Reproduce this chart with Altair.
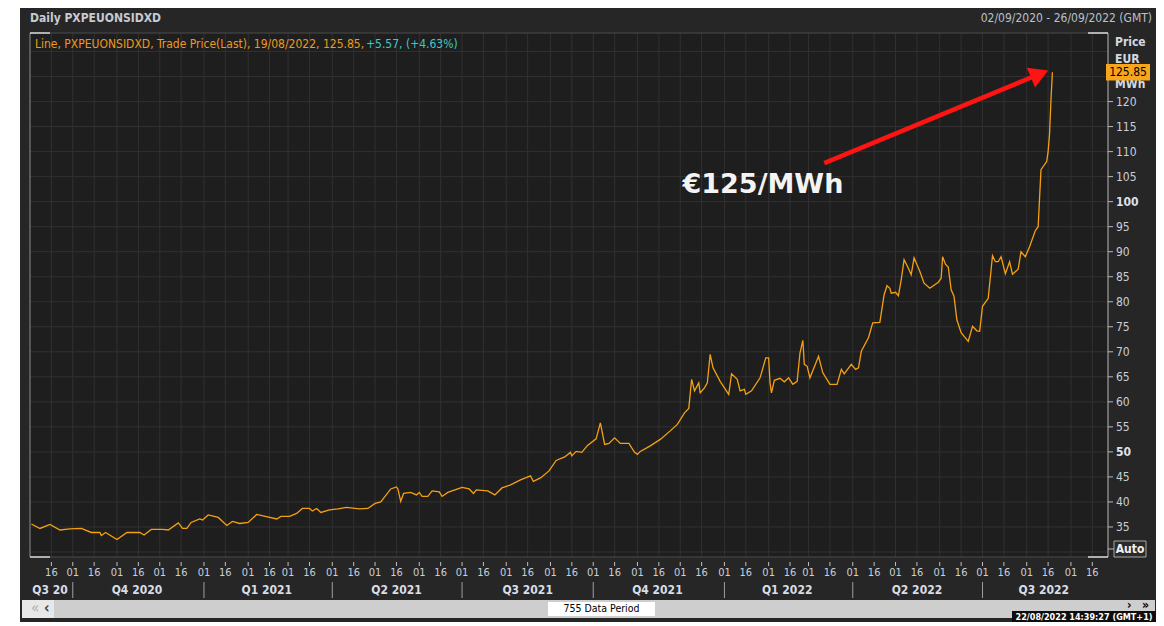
import altair as alt
import pandas as pd

# ---------------- data ----------------
dates = [
    "2020-09-02", "2020-09-08", "2020-09-15", "2020-09-22", "2020-09-29", "2020-10-07", "2020-10-14",
    "2020-10-20", "2020-10-21", "2020-10-24", "2020-11-01", "2020-11-08", "2020-11-17", "2020-11-20",
    "2020-11-25", "2020-12-03", "2020-12-07", "2020-12-14", "2020-12-17", "2020-12-20", "2020-12-23",
    "2020-12-29", "2020-12-31", "2021-01-04", "2021-01-11", "2021-01-17", "2021-01-21", "2021-01-26",
    "2021-02-01", "2021-02-07", "2021-02-13", "2021-02-21", "2021-02-24", "2021-03-02", "2021-03-07",
    "2021-03-11", "2021-03-16", "2021-03-18", "2021-03-21", "2021-03-24", "2021-03-30", "2021-04-05",
    "2021-04-11", "2021-04-20", "2021-04-26", "2021-05-01", "2021-05-05", "2021-05-12", "2021-05-16",
    "2021-05-17", "2021-05-19", "2021-05-21", "2021-05-26", "2021-05-30", "2021-06-01", "2021-06-03",
    "2021-06-07", "2021-06-10", "2021-06-15", "2021-06-17", "2021-06-21", "2021-06-26", "2021-07-01",
    "2021-07-06", "2021-07-09", "2021-07-11", "2021-07-19", "2021-07-24", "2021-07-29", "2021-08-04",
    "2021-08-11", "2021-08-18", "2021-08-20", "2021-08-25", "2021-08-31", "2021-09-05", "2021-09-11",
    "2021-09-15", "2021-09-16", "2021-09-19", "2021-09-23", "2021-09-27", "2021-10-03", "2021-10-06",
    "2021-10-09", "2021-10-12", "2021-10-16", "2021-10-20", "2021-10-26", "2021-10-30", "2021-11-01",
    "2021-11-03", "2021-11-10", "2021-11-17", "2021-11-24", "2021-11-29", "2021-12-04", "2021-12-07",
    "2021-12-09", "2021-12-11", "2021-12-14", "2021-12-15", "2021-12-18", "2021-12-20", "2021-12-22",
    "2021-12-24", "2021-12-29", "2022-01-04", "2022-01-06", "2022-01-10", "2022-01-12", "2022-01-15",
    "2022-01-16", "2022-01-20", "2022-01-26", "2022-01-30", "2022-02-01", "2022-02-02", "2022-02-03",
    "2022-02-05", "2022-02-09", "2022-02-12", "2022-02-15", "2022-02-18", "2022-02-21", "2022-02-23",
    "2022-02-25", "2022-02-26", "2022-02-28", "2022-03-02", "2022-03-08", "2022-03-11", "2022-03-16",
    "2022-03-21", "2022-03-24", "2022-03-26", "2022-03-31", "2022-04-03", "2022-04-05", "2022-04-07",
    "2022-04-12", "2022-04-15", "2022-04-20", "2022-04-23", "2022-04-25", "2022-04-27", "2022-04-28",
    "2022-05-01", "2022-05-03", "2022-05-05", "2022-05-07", "2022-05-10", "2022-05-12", "2022-05-14",
    "2022-05-18", "2022-05-21", "2022-05-25", "2022-05-31", "2022-06-02", "2022-06-03", "2022-06-05",
    "2022-06-07", "2022-06-09", "2022-06-11", "2022-06-13", "2022-06-16", "2022-06-21", "2022-06-24",
    "2022-06-27", "2022-06-29", "2022-07-01", "2022-07-05", "2022-07-08", "2022-07-10", "2022-07-12",
    "2022-07-14", "2022-07-17", "2022-07-20", "2022-07-22", "2022-07-26", "2022-07-28", "2022-07-31",
    "2022-08-03", "2022-08-07", "2022-08-09", "2022-08-11", "2022-08-15", "2022-08-16", "2022-08-17",
    "2022-08-18", "2022-08-19",
]
prices = [
    35.6, 34.7, 35.5, 34.4, 34.6, 34.7, 33.9,
    33.9, 33.3, 33.9, 32.5, 33.9, 33.9, 33.4,
    34.5, 34.5, 34.4, 35.8, 34.7, 34.7, 35.9,
    36.6, 36.4, 37.4, 36.9, 35.3, 36.1, 35.7,
    35.9, 37.5, 37.1, 36.6, 37.1, 37.1, 37.7,
    38.7, 38.7, 38.2, 38.7, 37.9, 38.4, 38.6,
    38.9, 38.6, 38.7, 39.7, 40.0, 42.6, 43.0,
    42.6, 40.1, 41.7, 41.9, 41.4, 41.9, 41.1,
    41.1, 42.2, 42.0, 41.1, 41.9, 42.4, 42.9,
    42.6, 41.7, 42.4, 42.2, 41.4, 42.8, 43.4,
    44.4, 45.2, 44.1, 44.8, 46.2, 48.3, 49.0,
    49.9, 49.2, 50.1, 49.9, 51.3, 52.6, 55.8,
    51.5, 51.7, 52.8, 51.7, 51.7, 49.9, 49.5,
    50.1, 51.2, 52.5, 54.2, 55.5, 57.8, 58.7,
    64.5, 62.2, 63.8, 61.8, 62.8, 63.8, 69.5,
    66.8, 64.1, 61.5, 65.6, 64.5, 62.2, 62.5,
    61.5, 62.2, 64.8, 68.8, 68.8, 63.8, 61.8,
    64.3, 64.7, 64.0, 64.8, 63.5, 64.1, 69.8,
    72.3, 67.5, 67.1, 64.8, 69.1, 65.8, 63.5,
    63.5, 66.5, 65.6, 67.5, 66.5, 66.8, 70.1,
    72.8, 75.8, 75.9, 81.4, 83.2, 82.7, 81.7,
    81.9, 81.2, 84.4, 88.4, 86.7, 85.4, 88.8,
    86.1, 83.7, 82.7, 83.9, 84.7, 89.0, 87.5,
    86.9, 82.4, 81.1, 76.4, 73.8, 72.1, 75.1,
    74.2, 74.1, 79.1, 80.7, 89.2, 88.0, 88.0,
    89.0, 85.6, 88.0, 85.5, 86.5, 90.0, 89.0,
    91.0, 94.2, 95.0, 106.4, 108.0, 110.0, 113.5,
    120.28, 125.85,
]

y_tick_values = list(range(35, 121, 5))
y_bold_values = [50, 100]
y_grid_values = list(range(30, 131, 5))

quarter_labels = ["Q3 20", "Q4 2020", "Q1 2021", "Q2 2021", "Q3 2021",
                  "Q4 2021", "Q1 2022", "Q2 2022", "Q3 2022"]
quarter_label_dates = ["2020-09-15", "2020-11-15", "2021-02-14", "2021-05-16", "2021-08-16",
                       "2021-11-15", "2022-02-14", "2022-05-16", "2022-08-13"]
quarter_starts = ["2020-10-01", "2021-01-01", "2021-04-01", "2021-07-01",
                  "2021-10-01", "2022-01-01", "2022-04-01", "2022-07-01"]

# x axis ticks: the 1st and 16th of each month
tick_dates = []
for yr in (2020, 2021, 2022):
    for mo in range(1, 13):
        for dy in (1, 16):
            t = pd.Timestamp(year=yr, month=mo, day=dy)
            if pd.Timestamp("2020-09-16") <= t <= pd.Timestamp("2022-09-16"):
                tick_dates.append(t.strftime("%Y-%m-%d"))
tick_labels = [d[-2:] for d in tick_dates]

header_title = "Daily PXPEUONSIDXD"
header_range = "02/09/2020 - 26/09/2022 (GMT)"
legend_main = "Line, PXPEUONSIDXD, Trade Price(Last), 19/08/2022, 125.85,"
legend_change = "+5.57, (+4.63%)"
last_price = [125.85]
annot_text = ["€125/MWh"]
annot_date = ["2022-01-28"]
annot_value = [103.3]
arrow_from = ["2022-03-12", 107.7]
arrow_to = ["2022-08-10", 125.5]
period_text = "755 Data Period"
stamp_text = "22/08/2022 14:39:27  (GMT+1)"

# ---------------- styling ----------------
W, H = 1078, 524
FONT = "Liberation Sans Narrow, DejaVu Sans Condensed, Liberation Sans, sans-serif"
PANEL = "#262626"
PLOT_BG = "#1e1e1e"
GRID = "#313131"
LABEL = "#c8cfda"
ORANGE = "#f5a012"


def ms(s):
    return int(pd.Timestamp(s, tz="UTC").timestamp() * 1000)


xscale = alt.Scale(type="utc", domain=[ms("2020-09-01"), ms("2022-09-27")])
yscale = alt.Scale(domain=[29.0, 133.7], nice=False, zero=False)
one = alt.Data(values=[{"k": 1}])


def box(x, x2, y, y2, fill, stroke=None, sw=1):
    kw = dict(fill=fill)
    if stroke:
        kw.update(stroke=stroke, strokeWidth=sw)
    else:
        kw.update(strokeWidth=0)
    return alt.Chart(one).mark_rect(**kw).encode(
        x=alt.value(x), x2=alt.value(x2), y=alt.value(y), y2=alt.value(y2))


def label(x, y, s, color, size=12, weight="normal", align="left", font=FONT):
    return alt.Chart(one).mark_text(
        text=s, color=color, fontSize=size, fontWeight=weight, align=align,
        baseline="middle", font=font).encode(x=alt.value(x), y=alt.value(y))


def hline(x, x2, y, color, w=1):
    return alt.Chart(one).mark_rule(color=color, strokeWidth=w).encode(
        x=alt.value(x), x2=alt.value(x2), y=alt.value(y))


def vline(x, y, y2, color, w=1):
    return alt.Chart(one).mark_rule(color=color, strokeWidth=w).encode(
        x=alt.value(x), y=alt.value(y), y2=alt.value(y2))


X = lambda f="date:T": alt.X(f, scale=xscale, axis=None)
Y = lambda f="v:Q": alt.Y(f, scale=yscale, axis=None)

df = pd.DataFrame({"date": dates, "price": prices})
xt_df = pd.DataFrame({"date": tick_dates, "lab": tick_labels})
yt_df = pd.DataFrame({"v": y_tick_values})
yt_df["bold"] = yt_df["v"].isin(y_bold_values)

panel = box(-10, 1126, -25, 589, PANEL)
plot_bg = box(0, W, 0, H, PLOT_BG)

vgrid = alt.Chart(xt_df).mark_rule(color=GRID, strokeWidth=1).encode(
    x=X(), y=alt.value(0), y2=alt.value(H))
hgrid = alt.Chart(pd.DataFrame({"v": y_grid_values})).mark_rule(color=GRID, strokeWidth=1).encode(
    y=Y(), x=alt.value(0), x2=alt.value(W))

borders = [
    hline(0, W, 0, "#4a4a4a"),
    hline(0, W, H, "#4a4a4a"),
    vline(0, 0, H, "#8c8c8c"),
    vline(W, 0, H, "#b8b8b8"),
    hline(0, 20, 0, "#d8d8d8", 1.5),
    hline(0, 20, H, "#d8d8d8", 1.5),
    hline(W - 20, W, 0, "#d8d8d8", 1.5),
    hline(W - 20, W, H, "#d8d8d8", 1.5),
]

# x axis: ticks and day labels
x_ticks = alt.Chart(xt_df).mark_rule(color="#c0c0c0").encode(
    x=X(), y=alt.value(H + 5), y2=alt.value(H + 9))
x_labels = alt.Chart(xt_df).mark_text(color=LABEL, font=FONT, fontSize=11, baseline="middle").encode(
    x=X(), y=alt.value(H + 16), text="lab:N")

# right y axis: ticks and labels (50 and 100 bold)
y_ticks = alt.Chart(yt_df).mark_rule(color="#b8b8b8").encode(
    y=Y(), x=alt.value(W), x2=alt.value(W + 5))
y_labels_n = alt.Chart(yt_df).transform_filter("!datum.bold").mark_text(
    color=LABEL, font=FONT, fontSize=12, align="left", baseline="middle").encode(
    y=Y(), x=alt.value(W + 8), text="v:Q")
y_labels_b = alt.Chart(yt_df).transform_filter("datum.bold").mark_text(
    color="#dde2ea", font=FONT, fontSize=12, fontWeight="bold", align="left", baseline="middle").encode(
    y=Y(), x=alt.value(W + 8), text="v:Q")

line = alt.Chart(df).mark_line(color=ORANGE, strokeWidth=1.3).encode(
    x=X(), y=Y("price:Q"))

q_labels = alt.Chart(pd.DataFrame({"date": quarter_label_dates, "label": quarter_labels})).mark_text(
    fontWeight="bold", fontSize=12, color="#d8dde6", font=FONT, baseline="middle").encode(
    x=X(), y=alt.value(557), text="label:N")
q_seps = alt.Chart(pd.DataFrame({"date": quarter_starts})).mark_rule(color="#9aa0aa").encode(
    x=X(), y=alt.value(549), y2=alt.value(565))

arrow_df = pd.DataFrame({"date": [arrow_from[0]], "v": [arrow_from[1]],
                         "date2": [arrow_to[0]], "v2": [arrow_to[1]]})
arrow_shaft = alt.Chart(arrow_df).mark_rule(color="#ff1414", strokeWidth=4.5).encode(
    x=X(), y=Y(), x2="date2:T", y2="v2:Q")
arrow_head = alt.Chart(pd.DataFrame({"date": [arrow_to[0]], "v": [arrow_to[1]]})).mark_point(
    shape="triangle-right", size=460, filled=True, color="#ff1414", opacity=1, angle=337.5).encode(
    x=X(), y=Y())
annot = alt.Chart(pd.DataFrame({"date": annot_date, "v": annot_value, "t": annot_text})).mark_text(
    font="DejaVu Sans", fontWeight="bold", fontSize=27, color="#f4f4f4", align="center",
    baseline="middle").encode(x=X(), y=Y(), text="t:N")

price_df = pd.DataFrame({"v": last_price})
price_box = alt.Chart(price_df).transform_calculate(lo="datum.v - 1.65", hi="datum.v + 1.65").mark_rect(
    color="#f7a51c").encode(
    x=alt.value(1076), x2=alt.value(1120), y=Y("lo:Q"), y2="hi:Q")
price_txt = alt.Chart(price_df).mark_text(color="#000000", fontSize=12, font=FONT, align="center",
                                          baseline="middle").encode(
    x=alt.value(1098), y=Y(), text=alt.Text("v:Q", format=".2f"))

layers = [panel, plot_bg, hgrid, vgrid] + borders + [
    x_ticks, x_labels, y_ticks, y_labels_n, y_labels_b,
    q_seps, q_labels, line, arrow_shaft, arrow_head, annot,
    label(0, -15, header_title, "#c6cad2", 12, "bold"),
    label(1122, -15, header_range, "#b8c0cc", 12, "normal", "right"),
    label(5, 11, legend_main, "#eb9a1e", 12),
    label(336, 11, legend_change, "#3cc9c9", 12),
    label(1085, 9, "Price", "#d4d8e0", 12, "bold"),
    label(1085, 26, "EUR", "#d4d8e0", 12, "bold"),
    label(1085, 51, "MWh", "#d4d8e0", 12, "bold"),
    price_box, price_txt,
    hline(W, W + 6, 516, "#b8b8b8"),
    box(1084, 1116, 508, 524, "#2a2a2a", "#a8a8a8", 1),
    label(1100, 516, "Auto", "#f0f0f0", 12, "bold", "center"),
    # scroll bar
    box(-8, 1125, 567, 585, "#cecece"),
    box(-8, 24, 567, 585, "#e8e8e8"),
    label(1, 575, "«", "#b0b0b0", 15, "normal"),
    label(14, 575, "‹", "#404040", 15, "bold"),
    box(518, 625, 569, 583, "#ffffff"),
    label(571.5, 576, period_text, "#000000", 10.5, "normal", "center"),
    label(1097, 572, "›", "#000000", 12, "bold"),
    label(1112, 572, "»", "#000000", 12, "bold"),
    box(982, 1126, 578, 589, "#0e0e0e"),
    label(1054, 583.5, stamp_text, "#ffffff", 9, "bold", "center"),
]

chart = alt.layer(*layers).properties(
    width=W, height=H,
    padding={"left": 22, "top": 25, "right": 48, "bottom": 65},
    autosize=alt.AutoSizeParams(type="none"),
    background="white",
).configure_view(strokeWidth=0)

chart.save("out.html", embed_options={"renderer": "svg", "actions": False})
